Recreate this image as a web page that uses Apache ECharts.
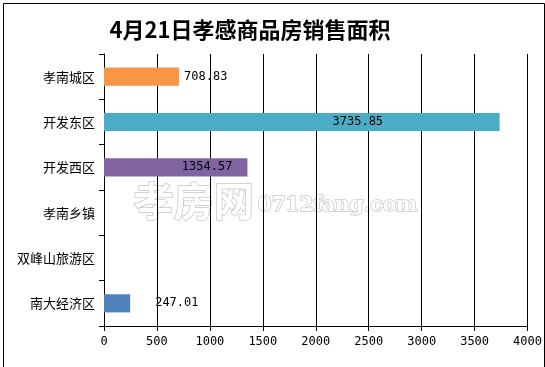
<!DOCTYPE html>
<html><head><meta charset="utf-8">
<script src="https://cdn.jsdelivr.net/npm/echarts@6/dist/echarts.min.js"></script>
<style>html,body{margin:0;padding:0;background:#fff}#c{width:545px;height:367px}</style>
</head><body><div id="c"></div>
<script>
const titleText = '4月21日孝感商品房销售面积';
const categories = ['孝南城区','开发东区','开发西区','孝南乡镇','双峰山旅游区','南大经济区'];
const values = [708.83, 3735.85, 1354.57, null, null, 247.01];
const colors = ['#F79646','#4BACC6','#8064A2','#4BACC6','#4BACC6','#4F81BD'];
const labelPos = [
  {position:'right', offset:[0,0]},
  {position:'inside', offset:[56,0]},
  {position:'insideRight', offset:[-10,0]},
  {position:'right', offset:[0,0]},
  {position:'right', offset:[0,0]},
  {position:'right', offset:[20,0]}
];
const xTicks = [0,500,1000,1500,2000,2500,3000,3500,4000];

const cats = categories.slice().reverse();
const data = values.map((v,i)=>({
  value: v,
  itemStyle:{color:colors[i]},
  label:{show: v!=null, position: labelPos[i].position, offset: labelPos[i].offset}
})).reverse();

const chart = echarts.init(document.getElementById('c'), null, {renderer:'canvas'});
chart.setOption({
  animation:false,
  title:{text:titleText, left:245, top:14, textAlign:'center',
    textStyle:{fontSize:22, fontWeight:'bold', color:'#000', fontFamily:'Noto Sans CJK SC'}},
  graphic:[
    {type:'rect', left:1, top:1, shape:{x:0,y:0,width:541,height:364}, style:{fill:'none', stroke:'#000', lineWidth:1}, z:-1},
    {type:'text', left:133, top:180, style:{text:'孝房网', font:'bold 40px "Noto Sans CJK SC"', fill:'#fff', stroke:'#c8c8c8', lineWidth:1.5}, z:0},
    {type:'text', left:257, top:195, style:{text:'0712fang.com', font:'bold 20px "DejaVu Serif"', fill:'#fff', stroke:'#c8c8c8', lineWidth:1.5}, z:0}
  ],
  grid:{left:104, right:17, top:54, bottom:41, containLabel:false},
  xAxis:{type:'value', min:0, max:4000, interval:500,
    axisLine:{show:true, lineStyle:{color:'#000'}},
    axisTick:{show:true, length:5, lineStyle:{color:'#000'}},
    axisLabel:{color:'#000', fontSize:12, margin:10, fontFamily:'DejaVu Sans Mono', formatter:v=>String(v)},
    splitLine:{show:true, lineStyle:{color:'#000', width:1}}},
  yAxis:{type:'category', data:cats,
    axisLine:{show:true, lineStyle:{color:'#000'}},
    axisTick:{show:true, length:5, inside:false, lineStyle:{color:'#000'}},
    axisLabel:{color:'#000', fontSize:13, margin:9, fontFamily:'Noto Sans CJK SC'}},
  series:[{type:'bar', data:data, barWidth:'40%', z:3,
    label:{color:'#000', fontSize:12, fontFamily:'DejaVu Sans Mono', formatter:p=>p.value.toFixed(2)}}]
});
</script></body></html>
